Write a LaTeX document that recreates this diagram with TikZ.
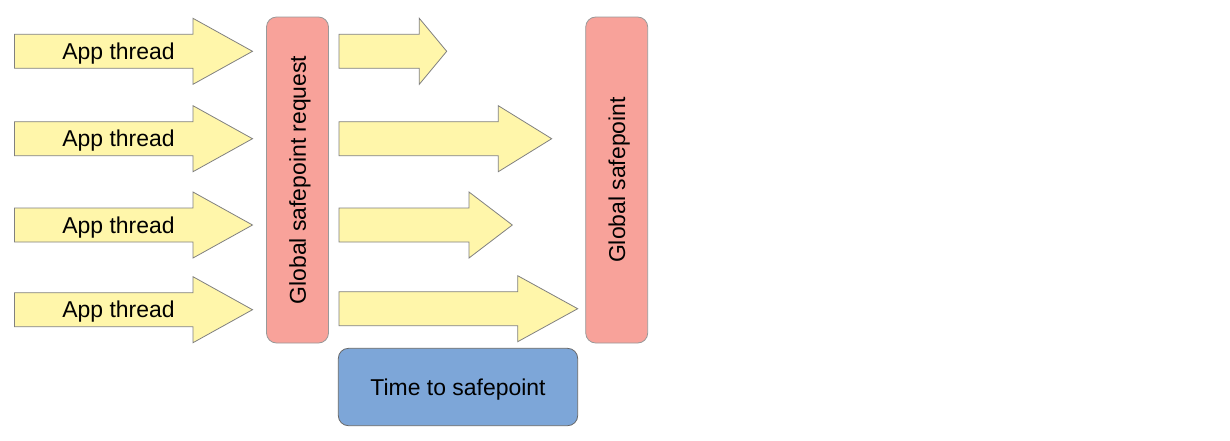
\documentclass[tikz,border=0pt]{standalone}
\usepackage{fontspec}
\setmainfont{Liberation Sans}
\usetikzlibrary{positioning}

% fat arrow: start x, head x, tip x, centre y
\newcommand\threadArrow[4]{%
  \draw[safepointArrowStyle] (#1,#4-17) -- (#2,#4-17) -- (#2,#4-33) -- (#3,#4)
    -- (#2,#4+33) -- (#2,#4+17) -- (#1,#4+17) -- cycle;}

\begin{document}
\begin{tikzpicture}[
    x=0.75pt, y=-0.75pt,
    font=\fontsize{17.2}{20}\selectfont,
    safepointArrowStyle/.style={draw=black!50, fill=yellowArrow, line width=0.6pt},
    safepointBarStyle/.style={draw=black!40, fill=redBar, line width=0.6pt,
        rounded corners=7.5pt, rotate=90, inner sep=0pt, text depth=0pt,
        minimum width=244.5pt, minimum height=46.5pt},
    safepointTimeStyle/.style={draw=black!60, fill=blueBox, line width=0.6pt,
        rounded corners=7.5pt, inner sep=0pt, text depth=0pt,
        minimum width=179.5pt, minimum height=58pt},
    safepointTextStyle/.style={anchor=base, inner sep=0pt}
]
    \definecolor{yellowArrow}{HTML}{FFF6AA}
    \definecolor{redBar}{HTML}{F8A29A}
    \definecolor{blueBox}{HTML}{7DA6D8}
    \useasboundingbox (0,0) rectangle (1230,440);

    % app threads running towards the request
    \foreach \yc [count=\i] in {51.3,138.7,225,309.7} {
        \threadArrow{14.5}{193}{252.5}{\yc}
        \node[safepointTextStyle] (app\i) at (118.5,\yc+8) {App thread};
    }

    % request bar
    \node[safepointBarStyle] (request) at (297.5,180) {Global safepoint request};

    % threads reaching the safepoint
    \threadArrow{339}{419.3}{446.7}{51.3}
    \threadArrow{339}{498.3}{551.7}{138.7}
    \threadArrow{339}{469}{512.3}{225}
    \threadArrow{339}{517.7}{577.7}{308.7}

    % safepoint bar
    \node[safepointBarStyle] (safepoint) at (616.7,180) {Global safepoint};

    % time to safepoint
    \node[safepointTimeStyle] (ttsp) at (458,387) {Time to safepoint};
\end{tikzpicture}
\end{document}
